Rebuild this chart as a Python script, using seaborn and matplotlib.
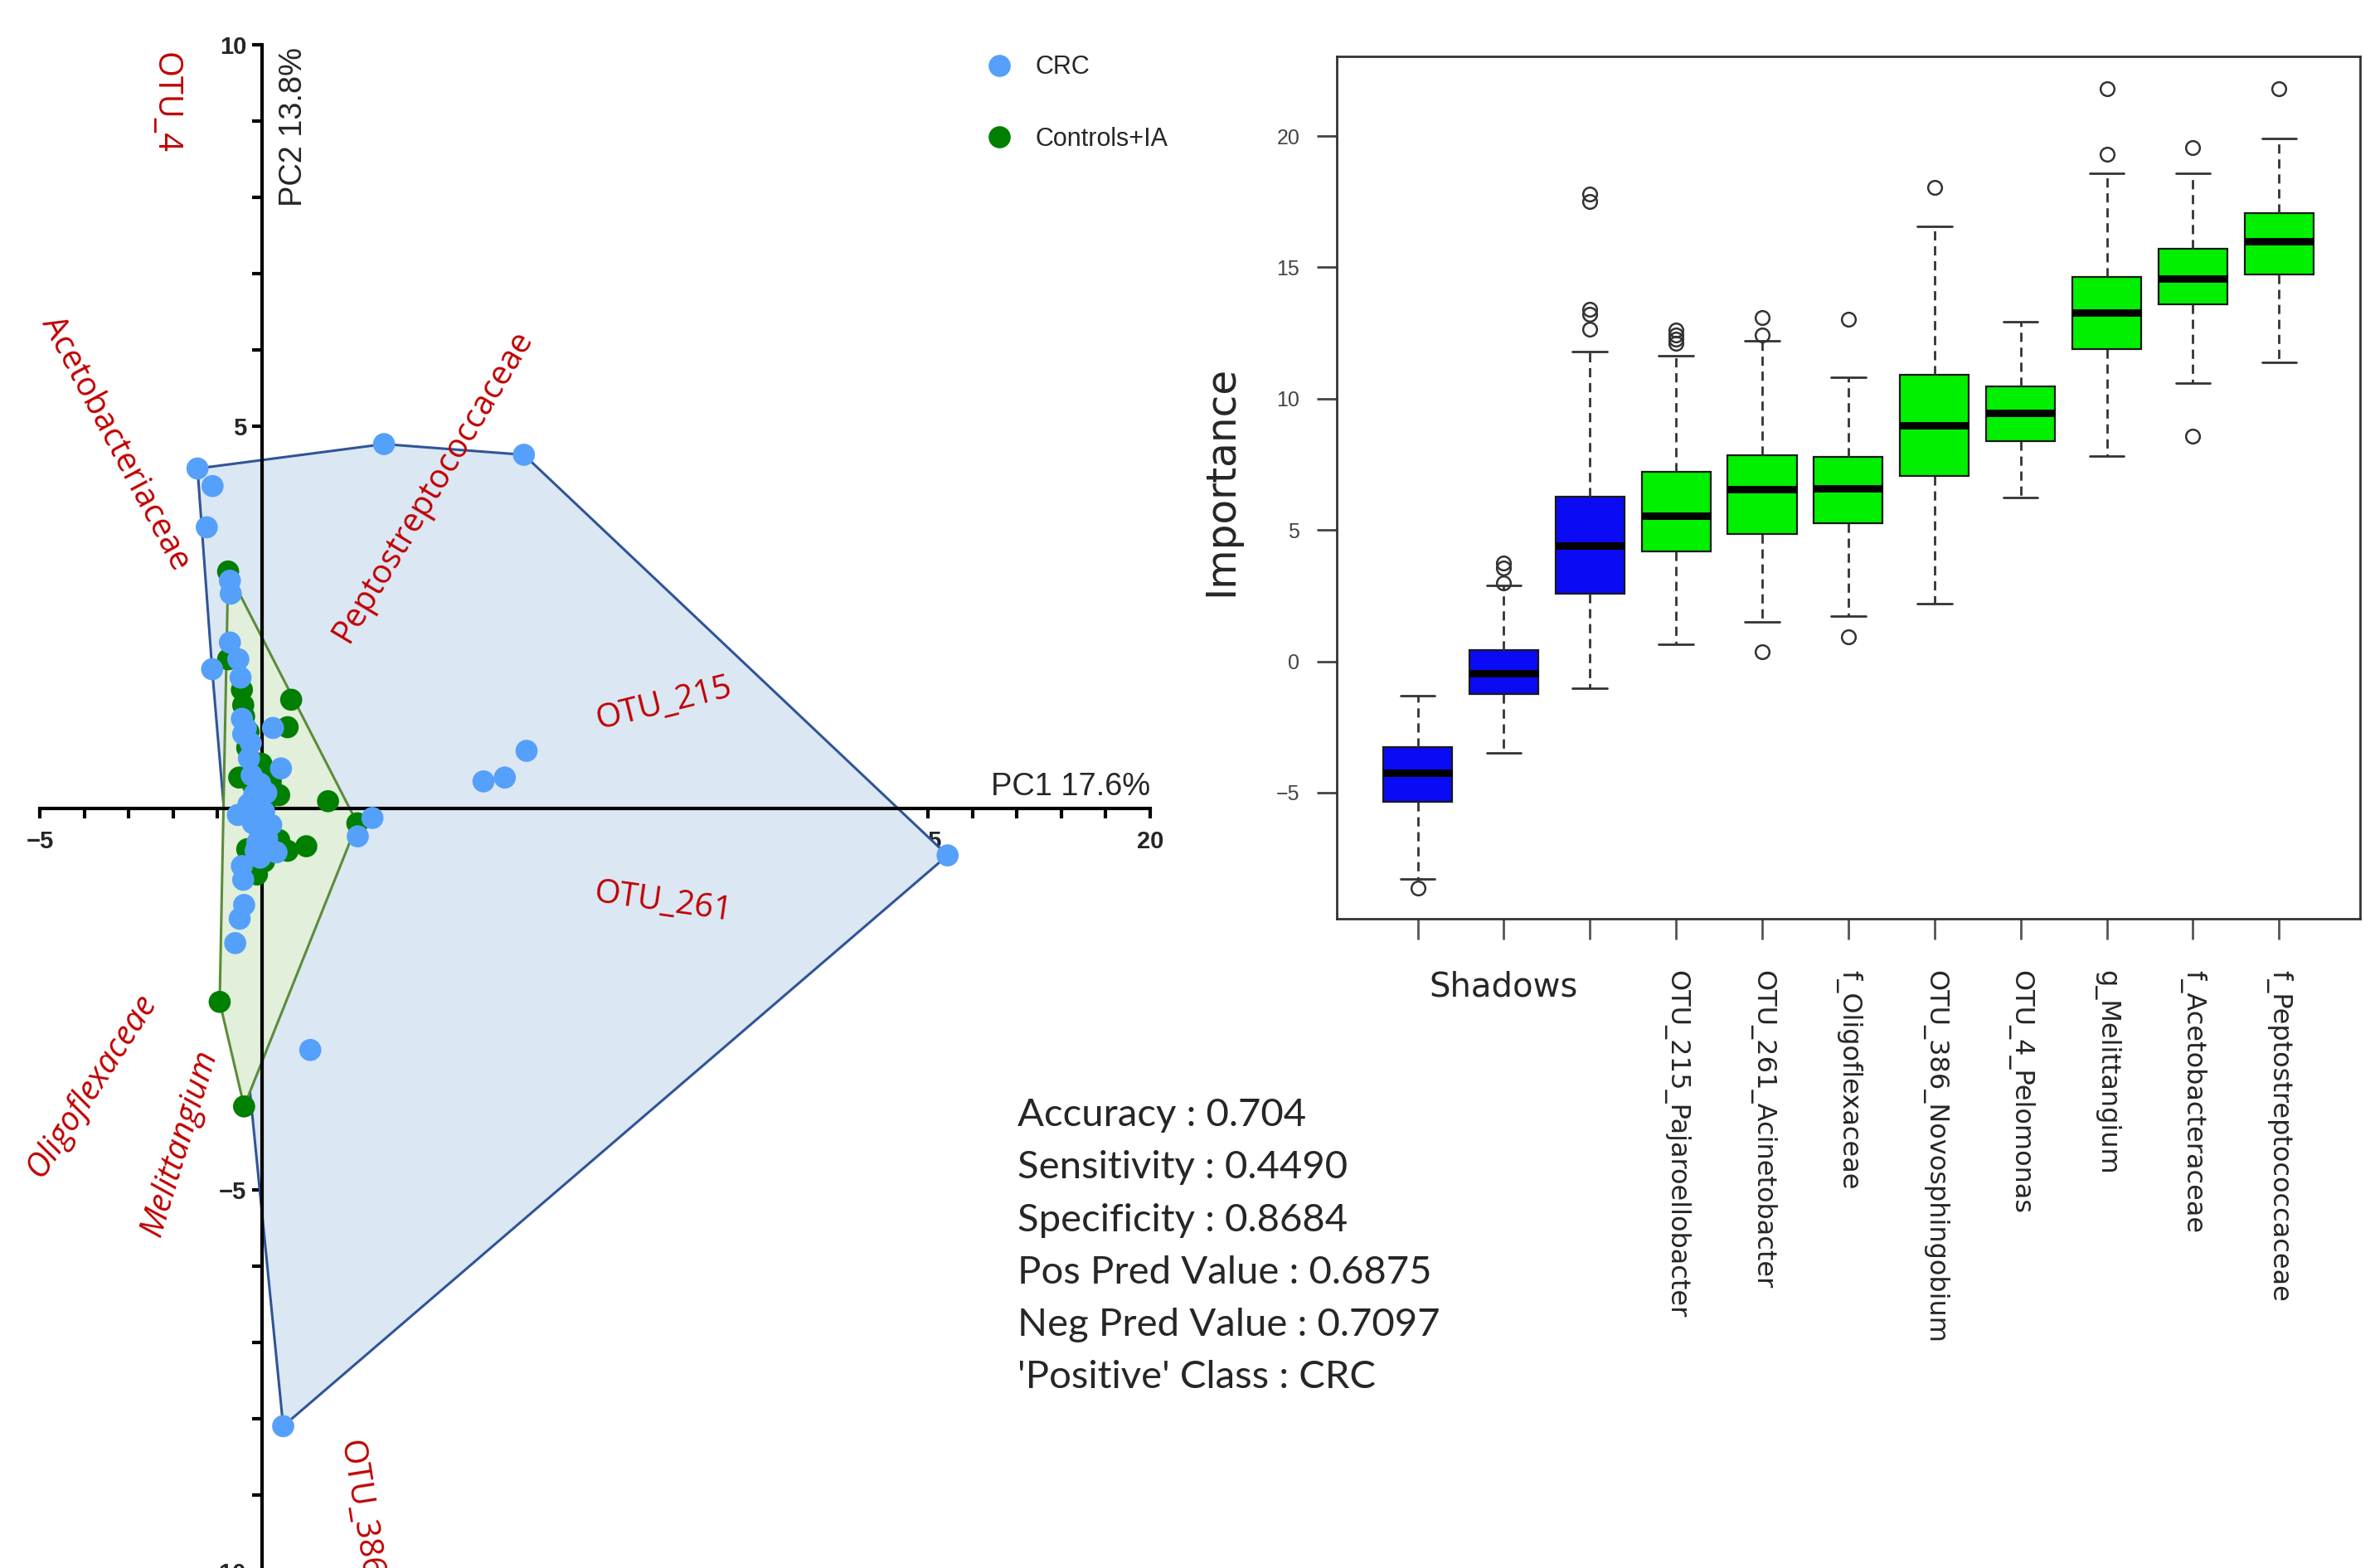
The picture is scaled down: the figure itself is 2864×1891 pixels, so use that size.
import numpy as np
import pandas as pd
import matplotlib
matplotlib.use("Agg")
from matplotlib import pyplot as plt
from matplotlib.lines import Line2D
import seaborn as sns


# ---- PCA scores ----
crc_pc1 = [-1.45, -1.11, 2.75, 5.90, -1.24, -0.72, -0.70, -0.72, -1.12, -0.53,
           -0.48, -0.45, -0.42, 0.25, -0.29, 0.43, -0.23, -0.04, -0.17, 4.99,
           5.47, 5.96, -0.54, 0.21, 2.49, 2.16, -0.04, -0.14, 0.33, -0.04,
           -0.45, -0.42, -0.40, -0.50, -0.60, 1.09, 0.48, 15.44, -0.30, 0.05,
           -0.12, 0.12, -0.25, -0.36, -0.20, 0.10, -0.10]
crc_pc2 = [4.45, 4.22, 4.77, 4.63, 3.68, 2.98, 2.81, 2.17, 1.82, 1.95,
           1.71, 1.17, 0.97, 1.05, 0.65, 0.52, 0.43, 0.32, 0.18, 0.35,
           0.40, 0.75, -0.09, -0.22, -0.13, -0.37, -0.32, -0.56, -0.58, -0.65,
           -0.76, -0.94, -1.27, -1.45, -1.77, -3.17, -8.10, -0.62, 0.05, -0.05,
           0.08, -0.40, 0.85, 1.05, -0.20, 0.20, -0.45]

ctrl_pc1 = [-0.76, -0.76, -0.45, -0.42, 0.66, 0.58, -0.33, -0.01, -0.51, 0.39,
            1.49, 2.15, 0.39, 0.58, 1.00, -0.33, -0.11, -0.95, -0.40, 0.02,
            -0.20, 0.10, -0.30, -0.25, 0.20, -0.05, 0.15, -0.40, -0.18, 0.05]
ctrl_pc2 = [3.10, 1.95, 1.55, 1.35, 1.42, 1.06, 0.79, 0.58, 0.40, 0.17,
            0.09, -0.20, -0.42, -0.56, -0.50, -0.54, -0.87, -2.54, -3.91, -0.05,
            0.30, 0.10, 1.00, 0.00, 0.35, -0.25, -0.30, 1.20, 0.60, -0.70]

groups = ["CRC", "Controls+IA"]
group_colors = ["#55a0fa", "#007f00"]
hull_fill = ["#dce7f4", "#e2efda"]
hull_edge = ["#2f5597", "#5b8c3a"]

# loadings labels (name, PC1, PC2, angle, italic)
load_names = ["OTU_4", "Acetobacteriaceae", "Peptostreptococcaceae", "OTU_215",
              "OTU_261", "Oligoflexaceae", "Melittangium"]
load_x = [-2.18, -3.30, 3.85, 9.05, 9.04, -3.83, -1.85]
load_y = [9.24, 4.78, 4.22, 1.36, -1.24, -3.64, -4.39]
load_rot = [-90, -62, 59, 14, -8, 57, 73]
load_italic = [False, False, False, False, False, True, True]

# ---- Boruta importance (box statistics) ----
features = ["shadowMin", "shadowMean", "shadowMax", "OTU_215_Pajaroellobacter",
            "OTU_261_Acinetobacter", "f_Oligoflexaceae", "OTU_386_Novosphingobium",
            "OTU_4_Pelomonas", "g_Melittangium", "f_Acetobacteraceae",
            "f_Peptostreptococcaceae"]
q1 = [-5.36, -1.24, 2.57, 4.19, 4.85, 5.27, 7.07, 8.40, 11.88, 13.60, 14.74]
med = [-4.23, -0.46, 4.41, 5.54, 6.56, 6.60, 8.97, 9.46, 13.27, 14.58, 15.98]
q3 = [-3.26, 0.42, 6.27, 7.22, 7.84, 7.78, 10.92, 10.48, 14.65, 15.71, 17.08]
whislo = [-8.29, -3.48, -1.04, 0.64, 1.51, 1.73, 2.19, 6.23, 7.82, 10.59, 11.37]
whishi = [-1.31, 2.90, 11.81, 11.63, 12.21, 10.81, 16.57, 12.92, 18.59, 18.57, 19.92]
fliers = [[-8.62], [3.0, 3.55, 3.73], [12.65, 13.2, 13.4, 17.5, 17.8],
          [12.1, 12.27, 12.43, 12.6], [0.38, 12.43, 13.10], [0.93, 13.03],
          [18.04], [], [19.30, 21.80], [8.58, 19.56], [21.80]]
decision = ["shadow"] * 3 + ["Confirmed"] * 8
box_colors = {"shadow": "#0a0af5", "Confirmed": "#00f000"}

metric_names = ["Accuracy", "Sensitivity", "Specificity", "Pos Pred Value",
                "Neg Pred Value", "'Positive' Class"]
metric_values = ["0.704", "0.4490", "0.8684", "0.6875", "0.7097", "CRC"]


def convex_hull(xs, ys):
    pts = sorted(set(zip(xs, ys)))

    def cross(o, a, b):
        return (a[0] - o[0]) * (b[1] - o[1]) - (a[1] - o[1]) * (b[0] - o[0])

    lower, upper = [], []
    for p in pts:
        while len(lower) >= 2 and cross(lower[-2], lower[-1], p) <= 0:
            lower.pop()
        lower.append(p)
    for p in reversed(pts):
        while len(upper) >= 2 and cross(upper[-2], upper[-1], p) <= 0:
            upper.pop()
        upper.append(p)
    return np.array(lower[:-1] + upper[:-1])


sns.set_style("white")
plt.rcParams["font.family"] = ["Liberation Sans", "DejaVu Sans"]

fig = plt.figure(figsize=(14.32, 9.455), dpi=200)

# ================= PCA panel =================
ax = fig.add_axes([0.01676, -0.002, 0.4675, 0.9733])

pca = pd.DataFrame({
    "PC1": ctrl_pc1 + crc_pc1,
    "PC2": ctrl_pc2 + crc_pc2,
    "group": [groups[1]] * len(ctrl_pc1) + [groups[0]] * len(crc_pc1),
})

for i, g in enumerate(groups):
    sub = pca[pca.group == g]
    h = convex_hull(sub.PC1, sub.PC2)
    ax.fill(h[:, 0], h[:, 1], facecolor=hull_fill[i], edgecolor=hull_edge[i],
            lw=1.1, zorder=1 + i * 0.1)

sns.scatterplot(data=pca, x="PC1", y="PC2", hue="group", hue_order=groups,
                palette=group_colors, s=92, linewidth=0, legend=False, ax=ax,
                zorder=3)

ax.set_xlim(-5, 20)
ax.set_ylim(-10, 10)
ax.spines["left"].set_position(("data", 0))
ax.spines["bottom"].set_position(("data", 0))
ax.spines["top"].set_visible(False)
ax.spines["right"].set_visible(False)
for s in ["left", "bottom"]:
    ax.spines[s].set_linewidth(1.5)
    ax.spines[s].set_color("black")
ax.set_xticks([-5, 5, 10, 15, 20])
ax.set_xticks(np.arange(-5, 21), minor=True)
ax.set_yticks([-10, -5, 5, 10])
ax.set_yticks(np.arange(-10, 11), minor=True)
ax.tick_params(which="both", direction="out", length=4.2, width=1.5,
               color="black", bottom=True, left=True)
ax.tick_params(axis="x", pad=5.5)
ax.tick_params(axis="y", pad=2.5)
for lbl in ax.get_xticklabels() + ax.get_yticklabels():
    lbl.set_fontweight("bold")
    lbl.set_fontsize(10.5)
ax.set_xlabel("")
ax.set_ylabel("")
ax.set_facecolor("none")

ax.text(20, 0.17, "PC1 17.6%", ha="right", va="baseline", fontsize=13.7)
ax.text(0.71, 8.93, "PC2 13.8%", rotation=90, ha="center", va="center", fontsize=13.7)

for name, x, y, r, it in zip(load_names, load_x, load_y, load_rot, load_italic):
    ax.text(x, y, name, rotation=r, ha="center", va="center", color="#c00000",
            fontsize=14.3, family="Open Sans", style="italic" if it else "normal",
            rotation_mode="anchor")
ax.text(1.96, -8.29, "OTU_386", rotation=-81, ha="left", va="center",
        color="#c00000", fontsize=14.3, family="Open Sans", rotation_mode="anchor")

handles = [Line2D([], [], ls="none", marker="o", markersize=9.6,
                  markerfacecolor=c, markeredgewidth=0) for c in group_colors]
ax.legend(handles, groups, loc="upper left", bbox_to_anchor=(0.853, 0.9935),
          frameon=False, fontsize=11, handlelength=1.0, handletextpad=0.9,
          labelspacing=1.85, borderpad=0, borderaxespad=0)

# ================= Boruta panel =================
bx = fig.add_axes([0.5628, 0.4141, 0.4309, 0.5502])
stats = []
for i, f in enumerate(features):
    stats.append(dict(label=f, q1=q1[i], med=med[i], q3=q3[i],
                      whislo=whislo[i], whishi=whishi[i], fliers=fliers[i]))
bp = bx.bxp(stats, positions=np.arange(1, 12), widths=0.8, capwidths=0.4,
            patch_artist=True,
            boxprops=dict(edgecolor="#1a1a1a", linewidth=0.8),
            medianprops=dict(color="black", linewidth=3.2),
            whiskerprops=dict(color="#333333", linewidth=1.0, linestyle=(0, (4, 2.5))),
            capprops=dict(color="#333333", linewidth=1.0),
            flierprops=dict(marker="o", markersize=6, markerfacecolor="none",
                            markeredgecolor="#333333", markeredgewidth=0.9))
for patch, d in zip(bp["boxes"], decision):
    patch.set_facecolor(box_colors[d])

bx.set_xlim(0.06, 11.94)
bx.set_ylim(-9.8, 23.05)
for s in bx.spines.values():
    s.set_visible(True)
    s.set_color("#333333")
    s.set_linewidth(1.0)
bx.set_yticks([-5, 0, 5, 10, 15, 20])
bx.tick_params(axis="y", direction="out", length=8.6, width=1, color="#444444",
               labelsize=9, labelcolor="#444444", pad=7.5, left=True)
xlabels = ["", "Shadows", ""] + features[3:]
bx.set_xticks(np.arange(1, 12))
bx.set_xticklabels(xlabels, family="DejaVu Sans")
bx.tick_params(axis="x", direction="out", length=9, width=1, color="#555555",
               pad=13.5, bottom=True)
for lbl in bx.get_xticklabels():
    if lbl.get_text() == "Shadows":
        lbl.set_fontsize(14.5)
        lbl.set_va("top")
    else:
        lbl.set_rotation(-90)
        lbl.set_fontsize(11.5)
        lbl.set_va("top")
        lbl.set_ha("center")
bx.set_ylabel("Importance", fontsize=17.5, family="DejaVu Sans", va="center")
bx.yaxis.set_label_coords(-0.1135, 0.5074)
bx.set_xlabel("")
bx.grid(False)

# ================= Metrics text =================
for i, (n, v) in enumerate(zip(metric_names, metric_values)):
    fig.text(0.4284, 0.2819 - i * 0.03347, f"{n} : {v}", family="Lato",
             fontsize=17, va="baseline", ha="left")

fig.savefig("out.png", dpi=200)
